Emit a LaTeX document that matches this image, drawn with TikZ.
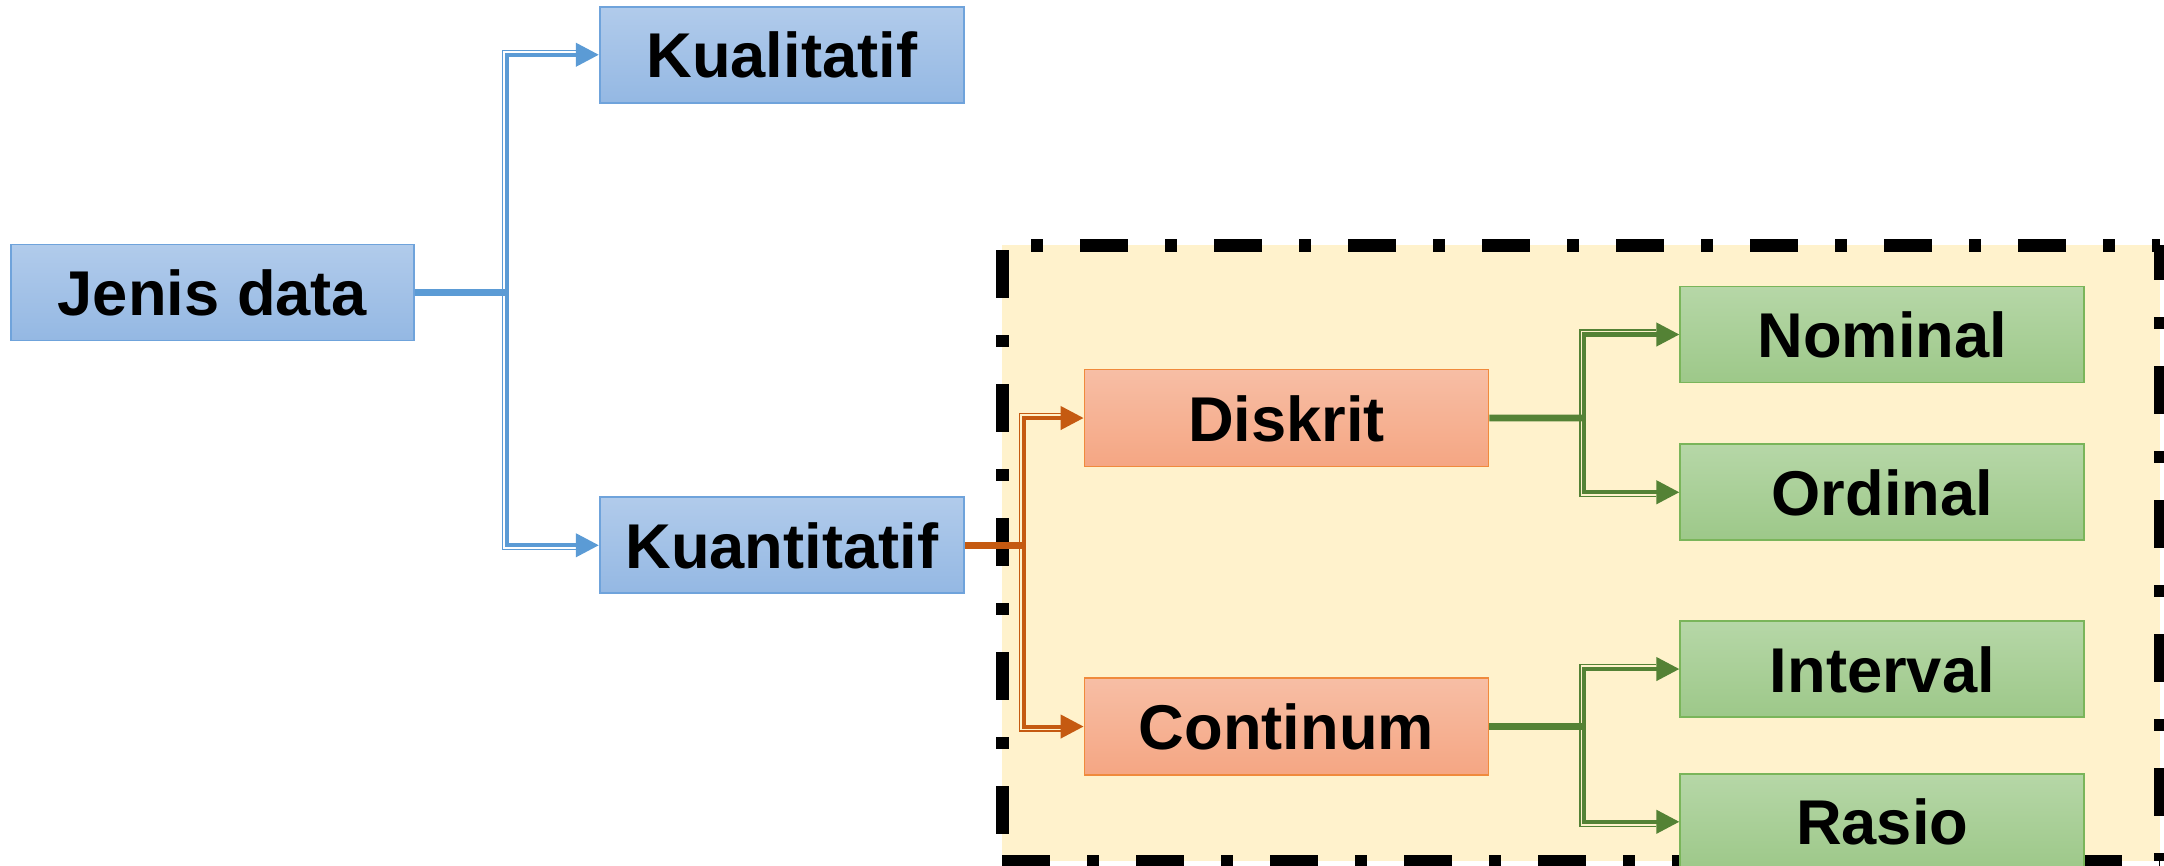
\documentclass[tikz,border=0pt]{standalone}
\usepackage{fontspec}
\setmainfont{Liberation Sans}
\usetikzlibrary{positioning,arrows.meta,calc}
\definecolor{biruatas}{RGB}{177,203,235}
\definecolor{birubawah}{RGB}{148,184,227}
\definecolor{garisbiru}{RGB}{111,163,219}
\definecolor{panahbiru}{RGB}{91,155,213}
\definecolor{jinggaatas}{RGB}{247,190,165}
\definecolor{jinggabawah}{RGB}{245,166,131}
\definecolor{garisjingga}{RGB}{240,138,60}
\definecolor{panahjingga}{RGB}{197,90,17}
\definecolor{hijauatas}{RGB}{182,215,167}
\definecolor{hijaubawah}{RGB}{157,200,137}
\definecolor{garishijau}{RGB}{122,181,90}
\definecolor{panahhijau}{RGB}{84,130,53}
\definecolor{kuning}{RGB}{255,242,204}

\begin{document}
\begin{tikzpicture}[
  font=\fontsize{18}{22}\selectfont\bfseries,
  kotak/.style={draw, line width=0.5pt, inner sep=0pt, minimum height=9.6mm,
                text height=4.6mm, text depth=0pt},
  biru/.style={kotak, draw=garisbiru, top color=biruatas, bottom color=birubawah,
               minimum width=36.4mm},
  jingga/.style={kotak, draw=garisjingga, top color=jinggaatas, bottom color=jinggabawah,
                 minimum width=40.4mm, minimum height=9.7mm},
  hijau/.style={kotak, draw=garishijau, top color=hijauatas, bottom color=hijaubawah,
                minimum width=40.4mm},
  batang/.style={line width=1.9pt},
  cabang/.style={line width=1.15pt, -{Triangle[length=2.3mm,width=2.3mm]}},
  tipis/.style={line width=0.4pt},
  bingkai/.style={line width=3.7pt, dash pattern=on 4.8mm off 3.7mm on 1.2mm off 3.7mm}]

\useasboundingbox (0,0) rectangle (21.64,-8.65);

\coordinate (bkiri) at (10.02,-2.45);
\coordinate (bkanan) at (21.60,-8.61);
\fill[kuning] (bkiri) rectangle (bkanan);
\draw[bingkai, dash phase=5.6mm] (bkiri) -- (bkiri -| bkanan);
\draw[bingkai, dash phase=1.3mm] (bkiri -| bkanan) -- (bkanan);
\draw[bingkai] (bkiri |- bkanan) -- (bkanan);
\draw[bingkai, dash phase=12.9mm] (bkiri) -- (bkiri |- bkanan);

\node[biru, minimum width=40.3mm] (jenis) at (2.125,-2.925) {Jenis data};
\node[biru, above right=1.40cm and 1.84cm of jenis] (kual) {Kualitatif};
\node[biru, below right=1.55cm and 1.84cm of jenis] (kuan) {Kuantitatif};
\node[jingga, above right=0.29cm and 1.19cm of kuan] (diskrit) {Diskrit};
\node[jingga, below right=0.83cm and 1.19cm of kuan] (continum) {Continum};
\node[hijau, right=1.9cm of diskrit, yshift=8.35mm] (nominal) {Nominal};
\node[hijau, below=6mm of nominal] (ordinal) {Ordinal};
\node[hijau, right=1.9cm of continum, yshift=5.75mm] (interval) {Interval};
\node[hijau, below=5.5mm of interval] (rasio) {Rasio};

\coordinate (tbiru) at ($(jenis.east)!.5!(kual.west |- jenis.east)$);
\coordinate (tjingga) at ($(kuan.east)!.5!(diskrit.west |- kuan.east)$);
\coordinate (thijau) at ($(diskrit.east)!.5!(nominal.west |- diskrit.east)$);
\coordinate (thijaub) at ($(continum.east)!.5!(interval.west |- continum.east)$);

\draw[batang, panahbiru] (jenis.east) -- (tbiru);
\draw[cabang, panahbiru] (tbiru) |- (kual.west);
\draw[cabang, panahbiru] (tbiru) |- (kuan.west);
\draw[tipis, panahbiru] ([xshift=-0.45mm]tbiru) |- ([shift={(-2.3mm,0.45mm)}]kual.west);
\draw[tipis, panahbiru] ([xshift=-0.45mm]tbiru) |- ([shift={(-2.3mm,-0.45mm)}]kuan.west);

\draw[batang, panahjingga] (kuan.east) -- (tjingga);
\draw[cabang, panahjingga] (tjingga) |- (diskrit.west);
\draw[cabang, panahjingga] (tjingga) |- (continum.west);
\draw[tipis, panahjingga] ([xshift=-0.45mm]tjingga) |- ([shift={(-2.3mm,0.45mm)}]diskrit.west);
\draw[tipis, panahjingga] ([xshift=-0.45mm]tjingga) |- ([shift={(-2.3mm,-0.45mm)}]continum.west);

\draw[batang, panahhijau] (diskrit.east) -- (thijau);
\draw[cabang, panahhijau] (thijau) |- (nominal.west);
\draw[cabang, panahhijau] (thijau) |- (ordinal.west);
\draw[tipis, panahhijau] ([xshift=-0.45mm]thijau) |- ([shift={(-2.3mm,0.45mm)}]nominal.west);
\draw[tipis, panahhijau] ([xshift=-0.45mm]thijau) |- ([shift={(-2.3mm,-0.45mm)}]ordinal.west);

\draw[batang, panahhijau] (continum.east) -- (thijaub);
\draw[cabang, panahhijau] (thijaub) |- (interval.west);
\draw[cabang, panahhijau] (thijaub) |- (rasio.west);
\draw[tipis, panahhijau] ([xshift=-0.45mm]thijaub) |- ([shift={(-2.3mm,0.45mm)}]interval.west);
\draw[tipis, panahhijau] ([xshift=-0.45mm]thijaub) |- ([shift={(-2.3mm,-0.45mm)}]rasio.west);
\end{tikzpicture}
\end{document}
